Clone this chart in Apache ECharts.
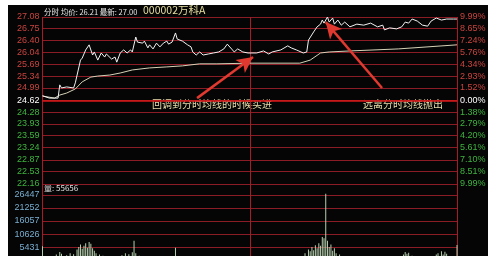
<!DOCTYPE html>
<html><head><meta charset="utf-8">
<script src="https://cdn.jsdelivr.net/npm/echarts@6/dist/echarts.min.js"></script>
<style>
html,body{margin:0;padding:0;background:#fff;width:499px;height:256px;overflow:hidden;}
#bg{position:absolute;left:8px;top:5px;width:480px;height:251px;background:#050505;}
#c{position:absolute;left:0;top:0;width:499px;height:256px;}
</style></head><body><div id="bg"></div><div id="c"></div>
<script>
// ---- tick labels ----
const priceTicks = [27.08, 26.75, 26.40, 26.04, 25.69, 25.34, 24.99, 24.62, 24.28, 23.93, 23.59, 23.24, 22.87, 22.53, 22.16];
const priceTickLabels = ['27.08','26.75','26.40','26.04','25.69','25.34','24.99','24.62','24.28','23.93','23.59','23.24','22.87','22.53','22.16'];
const pctTickLabels = ['9.99%','8.65%','7.24%','5.76%','4.34%','2.93%','1.52%','0.00%','1.38%','2.79%','4.20%','5.61%','7.10%','8.51%','9.99%'];
const volTicks = [26447, 21252, 16057, 10626, 5431, 240];
const volTickLabels = ['26447', '21252', '16057', '10626', '5431', '240'];
const prevClose = 24.62;

// ---- price (minute) series ----
const priceMinutes = [0,4,9,10,11,14,18,19,22,23,25,27,29,30,32,34,36,37,40,42,43,45,47,49,51,52,54,55,58,59,61,62,64,66,68,70,72,73,75,77,78,81,84,86,87,89,91,93,96,99,102,105,107,110,111,113,116,119,120,124,128,131,133,138,142,144,147,151,153,154,157,159,161,162,163,165,166,168,169,171,173,175,178,182,186,190,194,197,198,201,205,208,210,212,214,217,220,223,225,228,231,234,238,240];
const prices = [24.76,24.69,24.69,25.08,24.99,25.02,24.99,25.14,25.81,25.87,26.11,26.26,25.96,26.05,25.81,26.02,25.90,25.99,25.84,25.90,25.75,26.02,26.11,26.02,26.11,26.05,26.49,26.34,26.31,26.37,26.17,26.26,26.14,26.31,26.20,26.31,26.37,26.28,26.34,26.61,26.43,26.37,26.26,26.20,26.05,25.96,26.05,25.96,25.99,26.02,26.05,26.14,26.28,26.11,26.05,26.14,26.05,26.02,26.05,26.02,26.08,25.99,26.05,26.11,26.23,26.17,26.11,26.02,26.05,26.40,26.64,26.79,26.87,26.99,26.90,27.08,26.93,27.05,26.87,26.99,26.84,26.93,26.79,26.87,26.84,26.90,26.79,26.84,26.70,26.76,26.73,26.79,26.93,26.90,27.02,26.96,26.84,26.81,26.96,27.05,26.99,27.02,27.02,27.02];

// ---- average price series ----
const avgMinutes = [0,7,10,14,19,23,28,32,39,45,52,62,72,81,91,101,120,149,155,161,166,178,206,240];
const avgPrices = [24.75,24.69,24.78,24.84,24.96,25.17,25.31,25.34,25.37,25.43,25.52,25.58,25.61,25.64,25.70,25.70,25.72,25.72,25.81,26.02,26.05,26.08,26.14,26.26];

// ---- volume ----
const volMinutes = [0,2,4,6,8,10,11,12,14,16,18,20,21,22,23,24,25,26,27,28,29,30,31,33,35,37,40,43,46,48,50,52,53,54,56,59,62,66,70,74,77,80,85,90,95,100,105,110,115,120,125,130,135,140,145,150,152,154,155,156,157,158,159,160,161,162,163,164,165,166,167,168,169,170,172,174,177,180,185,190,195,200,205,209,210,211,212,214,218,222,226,228,229,231,232,233,234,236,238,240];
const volValues = [5800,1500,1200,1800,2500,3500,2800,1800,2200,3000,2600,4500,5500,6500,4800,6000,7000,5200,7500,6800,5000,4000,3000,2500,2000,1500,1200,1400,2200,3000,2600,3400,8000,3000,2000,1500,1200,1000,1300,1100,5200,1500,1000,900,800,900,1200,800,700,600,700,800,900,1200,1000,1500,3000,4500,3800,5500,4200,6200,5000,7000,6000,9500,9000,27000,8000,5500,6500,4000,5000,3000,2500,1800,1500,1000,900,800,1000,900,1100,2500,3500,2800,3200,2000,1200,1000,1500,2500,3000,3800,2500,3600,2800,1800,1500,6300];

// ---- annotation arrows (data coords: [minute, price]) ----
const arrowBuy = [[89.5, 24.69], [121.9, 25.90]];
const arrowSell = [[196.6, 24.99], [164, 26.93]];

const headerText = '分时 均价: 26.21 最新: 27.00';
const stockText = '000002万科A';
const volText = '量: 55656';
const noteBuy = '回调到分时均线的时候买进';
const noteSell = '远离分时均线抛出';

const FONT = '"Liberation Sans", "DejaVu Sans", sans-serif';
const CJK = '"Noto Sans CJK SC", "Liberation Sans", sans-serif';
const GRID_RED = '#8a1c26';

function tickIndex(arr, v) {
  for (let i = 0; i < arr.length; i++) if (Math.abs(v - arr[i]) < 1e-6) return i;
  return -1;
}
function cls(i) { return i < 7 ? 'u' : (i === 7 ? 'z' : 'd'); }
const richLbl = {
  u: {color: '#c9443f', fontSize: 9, fontFamily: FONT},
  z: {color: '#ffffff', fontSize: 9, fontFamily: FONT},
  d: {color: '#3fb43f', fontSize: 9, fontFamily: FONT}
};

const chart = echarts.init(document.getElementById('c'), null, {renderer: 'canvas'});
const option = {
  backgroundColor: 'transparent',
  animation: false,
  grid: [
    {left: 42.5, top: 17, width: 414.5, height: 167, outerBoundsMode: 'none', containLabel: false},
    {left: 42.5, top: 184, width: 414.5, height: 76, outerBoundsMode: 'none', containLabel: false}
  ],
  xAxis: [
    {gridIndex: 0, type: 'value', min: 0, max: 240, interval: 120,
     axisLine: {show: false}, axisTick: {show: false}, axisLabel: {show: false},
     splitLine: {show: true, lineStyle: {color: '#a81c28', width: 1}}},
    {gridIndex: 1, type: 'value', min: 0, max: 240, interval: 120,
     axisLine: {show: false}, axisTick: {show: false}, axisLabel: {show: false},
     splitLine: {show: true, lineStyle: {color: '#a81c28', width: 1}}}
  ],
  yAxis: [
    {gridIndex: 0, type: 'value', min: 22.16, max: 27.08, position: 'left',
     axisLine: {show: false}, axisTick: {show: false, customValues: priceTicks},
     splitLine: {show: true, customValues: priceTicks, lineStyle: {color: GRID_RED, width: 1}},
     axisLabel: {customValues: priceTicks, margin: 3, fontSize: 9, fontFamily: FONT,
       formatter: v => { const i = tickIndex(priceTicks, v); return i < 0 ? '' : '{' + cls(i) + '|' + priceTickLabels[i] + '}'; },
       rich: richLbl}},
    {gridIndex: 0, type: 'value', min: 22.16, max: 27.08, position: 'right',
     axisLine: {show: false}, axisTick: {show: false, customValues: priceTicks},
     splitLine: {show: false},
     axisLabel: {customValues: priceTicks, margin: 3, fontSize: 9, fontFamily: FONT,
       formatter: v => { const i = tickIndex(priceTicks, v); return i < 0 ? '' : '{' + cls(i) + '|' + pctTickLabels[i] + '}'; },
       rich: richLbl}},
    {gridIndex: 1, type: 'value', min: 240, max: 30882, position: 'left',
     axisLine: {show: false}, axisTick: {show: false, customValues: volTicks},
     splitLine: {show: true, customValues: volTicks, lineStyle: {color: GRID_RED, width: 1}},
     axisLabel: {customValues: volTicks, margin: 3, fontSize: 9, fontFamily: FONT, color: '#79aed0',
       formatter: v => { const i = tickIndex(volTicks, v); return i < 0 ? '' : volTickLabels[i]; }}}
  ],
  series: [
    {type: 'line', xAxisIndex: 0, yAxisIndex: 0, name: 'avg',
     data: avgMinutes.map((m, i) => [m, avgPrices[i]]),
     symbol: 'none', lineStyle: {color: '#d6d2b8', width: 1}, z: 3,
     markLine: {silent: true, symbol: 'none', label: {show: false},
       lineStyle: {color: '#d81818', width: 1.6, type: 'solid'},
       data: [{yAxis: prevClose}]}},
    {type: 'line', xAxisIndex: 0, yAxisIndex: 0, name: 'price',
     data: priceMinutes.map((m, i) => [m, prices[i]]),
     symbol: 'none', lineStyle: {color: '#f2f2f2', width: 1}, z: 4,
     markLine: {silent: true, symbol: ['none', 'arrow'], symbolSize: [12, 16], label: {show: false},
       lineStyle: {color: '#e0392f', width: 2.5, type: 'solid'},
       data: [
         [{coord: arrowBuy[0]}, {coord: arrowBuy[1]}],
         [{coord: arrowSell[0]}, {coord: arrowSell[1]}]
       ]}},
    {type: 'bar', xAxisIndex: 1, yAxisIndex: 2, name: 'vol',
     data: volMinutes.map((m, i) => [m, volValues[i]]),
     barWidth: 1, clip: false, itemStyle: {color: '#b5cfae'}}
  ],
  graphic: [
    {type: 'text', left: 44, top: 8, style: {text: headerText, fill: '#e8e8e8', font: '7.5px ' + CJK}},
    {type: 'text', left: 143, top: 5, style: {text: stockText, fill: '#e6dfa0', font: '10.5px ' + CJK}},
    {type: 'text', left: 44, top: 184, style: {text: volText, fill: '#e0e0e0', font: '8px ' + CJK}},
    {type: 'text', left: 152, top: 99, style: {text: noteBuy, fill: '#e8ddab', font: '10px ' + CJK}},
    {type: 'text', left: 363, top: 99, style: {text: noteSell, fill: '#e8ddab', font: '10px ' + CJK}}
  ]
};
chart.setOption(option);
</script></body></html>
